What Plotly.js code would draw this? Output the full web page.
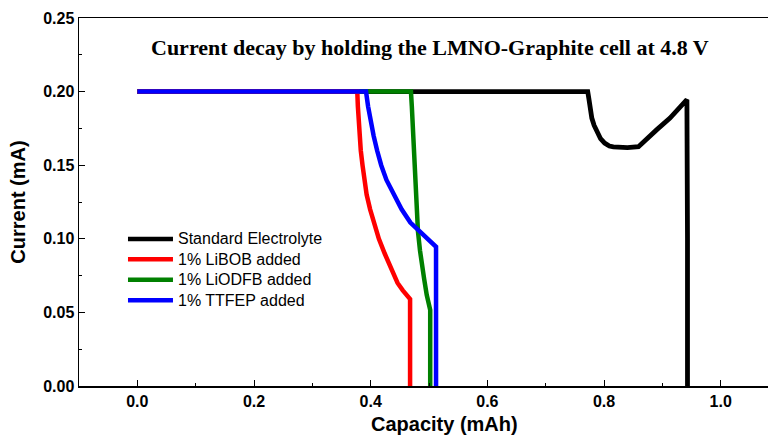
<!DOCTYPE html>
<html>
<head>
<meta charset="utf-8">
<script src="https://cdn.plot.ly/plotly-3.0.1.min.js"></script>
<style>html,body{margin:0;padding:0;background:#fff;}#chart{width:768px;height:438px;}</style>
</head>
<body>
<div id="chart"></div>
<script>
// Series names and colours
const seriesNames = ["Standard Electrolyte", "1% LiBOB added", "1% LiODFB added", "1% TTFEP added"];
const seriesColors = ["#000000", "#ff0000", "#008000", "#0000ff"];

// Standard Electrolyte
const stdCapacity = [0.0, 0.3, 0.6, 0.772, 0.774, 0.776, 0.779, 0.783, 0.788, 0.794, 0.801, 0.809, 0.816, 0.84, 0.859, 0.8675, 0.890, 0.913, 0.928, 0.942, 0.943, 0.943];
const stdCurrent  = [0.200, 0.200, 0.200, 0.200, 0.195, 0.188, 0.182, 0.177, 0.1725, 0.168, 0.165, 0.163, 0.1625, 0.162, 0.1626, 0.166, 0.174, 0.182, 0.188, 0.1945, 0.10, 0.0];

// 1% LiBOB added
const libobCapacity = [0.0, 0.2, 0.377, 0.378, 0.3795, 0.381, 0.383, 0.386, 0.389, 0.393, 0.399, 0.406, 0.414, 0.424, 0.434, 0.446, 0.455, 0.4675, 0.4675, 0.4675];
const libobCurrent  = [0.200, 0.200, 0.200, 0.190, 0.180, 0.170, 0.160, 0.150, 0.140, 0.130, 0.120, 0.110, 0.100, 0.090, 0.080, 0.070, 0.065, 0.059, 0.03, 0.0];

// 1% LiODFB added
const liodfbCapacity = [0.0, 0.2, 0.4690, 0.4705, 0.4718, 0.473, 0.4744, 0.476, 0.479, 0.481, 0.4845, 0.487, 0.4915, 0.496, 0.502, 0.502, 0.502];
const liodfbCurrent  = [0.200, 0.200, 0.200, 0.190, 0.180, 0.170, 0.160, 0.140, 0.115, 0.105, 0.092, 0.083, 0.073, 0.062, 0.0516, 0.025, 0.0];

// 1% TTFEP added
const ttfepCapacity = [0.0, 0.2, 0.392, 0.3955, 0.400, 0.405, 0.411, 0.418, 0.427, 0.439, 0.453, 0.468, 0.479, 0.493, 0.512, 0.512, 0.512];
const ttfepCurrent  = [0.200, 0.200, 0.200, 0.190, 0.180, 0.170, 0.160, 0.150, 0.140, 0.130, 0.120, 0.111, 0.107, 0.1014, 0.0946, 0.05, 0.0];

const xs = [stdCapacity, libobCapacity, liodfbCapacity, ttfepCapacity];
const ys = [stdCurrent, libobCurrent, liodfbCurrent, ttfepCurrent];

// Axis ticks
const xTickVals = [0.0, 0.2, 0.4, 0.6, 0.8, 1.0];
const xTickText = ["0.0", "0.2", "0.4", "0.6", "0.8", "1.0"];
const yTickVals = [0.00, 0.05, 0.10, 0.15, 0.20, 0.25];
const yTickText = ["0.00", "0.05", "0.10", "0.15", "0.20", "0.25"];

const chartTitle = "Current decay by holding the LMNO-Graphite cell at 4.8 V";
const xTitle = "Capacity (mAh)";
const yTitle = "Current (mA)";

const ARIAL = "Arial, 'Liberation Sans', sans-serif";

// Draw order: black, green, red, blue (blue on top as in reference)
const order = [0, 2, 1, 3];
const traces = order.map(i => ({
  x: xs[i], y: ys[i], type: "scatter", mode: "lines",
  name: seriesNames[i],
  line: {color: seriesColors[i], width: i === 0 ? 4.8 : 4.5, shape: "linear"},
  showlegend: false
}));

// Legend drawn inside the plot (line sample + label per series)
const legX0 = 0.0711, legX1 = 0.1364, legTextX = 0.1408, legY0 = 0.3995, legDy = 0.0554;
const shapes = seriesNames.map((n, i) => ({
  type: "line", xref: "paper", yref: "paper",
  x0: legX0, x1: legX1, y0: legY0 - i * legDy, y1: legY0 - i * legDy,
  line: {color: seriesColors[i], width: 4.5}
}));
const annotations = seriesNames.map((n, i) => ({
  text: n, xref: "paper", yref: "paper", x: legTextX, y: legY0 - i * legDy,
  xanchor: "left", yanchor: "middle", showarrow: false,
  font: {size: 16, family: ARIAL, color: "#000"}
}));
annotations.push({
  text: "<b>" + chartTitle + "</b>",
  xref: "paper", yref: "paper", x: 0.509, y: 0.921,
  xanchor: "center", yanchor: "middle", showarrow: false,
  font: {size: 22, family: "'Times New Roman', 'Liberation Serif', serif", color: "#000"}
});
annotations.push({
  text: "<b>" + xTitle + "</b>",
  xref: "paper", yref: "paper", x: 0.531, y: -0.103,
  xanchor: "center", yanchor: "middle", showarrow: false,
  font: {size: 20, family: ARIAL, color: "#000"}
});

const layout = {
  width: 768, height: 438,
  margin: {l: 79, r: 0, t: 18, b: 52, pad: 0},
  paper_bgcolor: "#fff", plot_bgcolor: "#fff",
  font: {family: ARIAL, color: "#000"},
  showlegend: false,
  xaxis: {
    range: [-0.1, 1.081],
    tickvals: xTickVals, ticktext: xTickText,
    ticks: "inside", ticklen: 6, tickwidth: 1, tickcolor: "#000",
    minor: {dtick: 0.1, tick0: 0, ticks: "inside", ticklen: 3, tickcolor: "#000", showgrid: false},
    showline: true, linecolor: "#000", linewidth: 1.5, mirror: true,
    showgrid: false, zeroline: false,
    tickfont: {size: 16, family: ARIAL, weight: "bold", color: "#000"}
  },
  yaxis: {
    range: [0, 0.25],
    tickvals: yTickVals, ticktext: yTickText,
    ticks: "inside", ticklen: 6, tickwidth: 1, tickcolor: "#000",
    minor: {dtick: 0.025, tick0: 0, ticks: "inside", ticklen: 3, tickcolor: "#000", showgrid: false},
    showline: true, linecolor: "#000", linewidth: 1.5, mirror: false,
    showgrid: false, zeroline: false,
    tickfont: {size: 16, family: ARIAL, weight: "bold", color: "#000"},
    title: {text: "<b>" + yTitle + "</b>", font: {size: 20, family: ARIAL, color: "#000"}, standoff: 12}
  },
  shapes: shapes,
  annotations: annotations
};

Plotly.newPlot("chart", traces, layout, {displayModeBar: false, staticPlot: true});
</script>
</body>
</html>
